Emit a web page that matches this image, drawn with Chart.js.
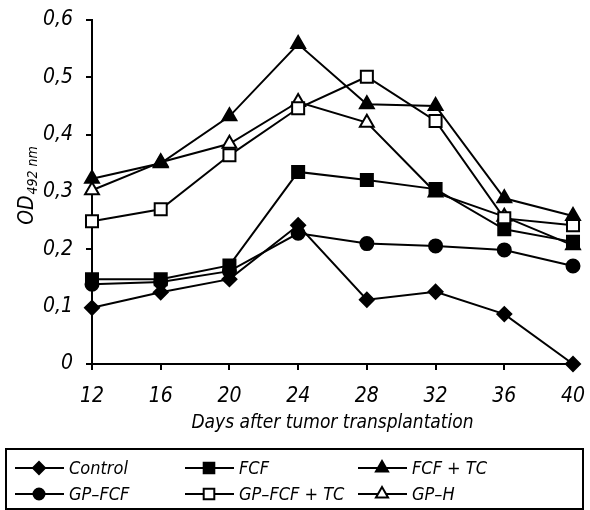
<!DOCTYPE html>
<html>
<head>
<meta charset="utf-8">
<script src="https://cdn.jsdelivr.net/npm/chart.js@4"></script>
<style>
  html, body { margin: 0; padding: 0; background: #fff; }
  #wrap { width: 590px; height: 510px; position: relative; }
</style>
</head>
<body>
<div id="wrap"><canvas id="chart" width="590" height="510"></canvas></div>
<script>
// Data
const days = [12, 16, 20, 24, 28, 32, 36, 40];
const yTicks = [0, 0.1, 0.2, 0.3, 0.4, 0.5, 0.6];

const control = [0.098, 0.125, 0.148, 0.242, 0.112, 0.126, 0.087, 0.0];
const fcf = [0.148, 0.148, 0.172, 0.335, 0.321, 0.305, 0.235, 0.213];
const fcfTc = [0.323, 0.350, 0.432, 0.558, 0.453, 0.450, 0.289, 0.258];
const gpFcf = [0.139, 0.143, 0.162, 0.228, 0.210, 0.206, 0.199, 0.171];
const gpFcfTc = [0.249, 0.270, 0.364, 0.446, 0.501, 0.424, 0.254, 0.242];
const gpH = [0.303, 0.352, 0.384, 0.457, 0.421, 0.299, 0.257, 0.207];

const FONT = "'Liberation Sans Narrow', 'DejaVu Sans Condensed', sans-serif";

function makeSet(label, values, style, filled, radius) {
    return {
        label: label,
        data: days.map((d, i) => ({ x: d, y: values[i] })),
        borderColor: '#000',
        borderWidth: 2,
        pointStyle: style,
        pointRadius: radius,
        pointHoverRadius: radius,
        pointBackgroundColor: filled ? '#000' : '#fff',
        pointBorderColor: '#000',
        pointBorderWidth: 2,
        tension: 0,
        clip: false
    };
}

const datasets = [
    makeSet('Control', control, 'rectRot', true, 7),
    makeSet('FCF', fcf, 'rect', true, 8.5),
    makeSet('FCF + TC', fcfTc, 'triangle', true, 8),
    makeSet('GP\u2013FCF', gpFcf, 'circle', true, 6.5),
    makeSet('GP\u2013FCF + TC', gpFcfTc, 'rect', false, 8.5),
    makeSet('GP\u2013H', gpH, 'triangle', false, 8)
];

// y title with subscript, x title and the boxed legend
const extras = {
    id: 'extras',
    afterDraw(chart) {
        const ctx = chart.ctx;
        const area = chart.chartArea;
        ctx.save();
        ctx.fillStyle = '#000';

        // x axis title
        ctx.font = 'italic 19px ' + FONT;
        ctx.textAlign = 'center';
        ctx.textBaseline = 'alphabetic';
        ctx.fillText('Days after tumor transplantation', (area.left + area.right) / 2, 428);

        // y axis title: OD492 nm
        ctx.save();
        ctx.translate(33, 186);
        ctx.rotate(-Math.PI / 2);
        ctx.textAlign = 'left';
        ctx.font = 'italic 21px ' + FONT;
        const main = 'OD';
        const sub = '492 nm';
        const wMain = ctx.measureText(main).width;
        ctx.font = 'italic 14px ' + FONT;
        const wSub = ctx.measureText(sub).width;
        const x0 = -(wMain + wSub) / 2;
        ctx.font = 'italic 21px ' + FONT;
        ctx.fillText(main, x0, 0);
        ctx.font = 'italic 14px ' + FONT;
        ctx.fillText(sub, x0 + wMain + 1, 4);
        ctx.restore();

        // legend box
        ctx.lineWidth = 2;
        ctx.strokeStyle = '#000';
        ctx.strokeRect(6, 449, 577, 60);
        const cols = [15, 185, 358];
        const rows = [468, 494];
        ctx.font = 'italic 18px ' + FONT;
        ctx.textAlign = 'left';
        ctx.textBaseline = 'middle';
        chart.data.datasets.forEach((ds, i) => {
            const cx = cols[i % 3];
            const cy = rows[Math.floor(i / 3)];
            ctx.beginPath();
            ctx.moveTo(cx, cy);
            ctx.lineTo(cx + 49, cy);
            ctx.lineWidth = 2;
            ctx.strokeStyle = '#000';
            ctx.stroke();
            ctx.fillStyle = ds.pointBackgroundColor;
            Chart.helpers.drawPoint(ctx, {
                pointStyle: ds.pointStyle,
                radius: ds.pointRadius - 1,
                borderWidth: 2,
                rotation: 0
            }, cx + 24, cy);
            ctx.fillStyle = '#000';
            ctx.fillText(ds.label, cx + 54, cy + 1);
        });
        ctx.restore();
    }
};

new Chart(document.getElementById('chart'), {
    type: 'line',
    data: { datasets: datasets },
    options: {
        responsive: false,
        animation: false,
        devicePixelRatio: 1,
        layout: { autoPadding: false, padding: { top: 20, right: 17, bottom: 106, left: 0 } },
        plugins: {
            legend: { display: false },
            tooltip: { enabled: false }
        },
        scales: {
            x: {
                type: 'linear',
                min: 12,
                max: 40,
                afterFit: (scale) => {
                    scale.height = 40;
                    scale.paddingLeft = 0;
                    scale.paddingRight = 0;
                },
                afterBuildTicks: (scale) => { scale.ticks = days.map(v => ({ value: v })); },
                border: { color: '#000', width: 2 },
                grid: { drawOnChartArea: false, color: '#000', lineWidth: 2, tickLength: 6 },
                ticks: {
                    color: '#000',
                    padding: 14,
                    maxRotation: 0,
                    font: { family: FONT, size: 21, style: 'italic' }
                }
            },
            y: {
                min: 0,
                max: 0.6,
                afterFit: (scale) => {
                    scale.width = 92;
                    scale.paddingTop = 0;
                    scale.paddingBottom = 0;
                },
                afterBuildTicks: (scale) => { scale.ticks = yTicks.map(v => ({ value: v })); },
                border: { color: '#000', width: 2 },
                grid: { drawOnChartArea: false, color: '#000', lineWidth: 2, tickLength: 6 },
                ticks: {
                    color: '#000',
                    padding: 13,
                    callback: (v) => v === 0 ? '0' : v.toFixed(1).replace('.', ','),
                    font: { family: FONT, size: 21, style: 'italic' }
                }
            }
        }
    },
    plugins: [extras]
});
</script>
</body>
</html>
